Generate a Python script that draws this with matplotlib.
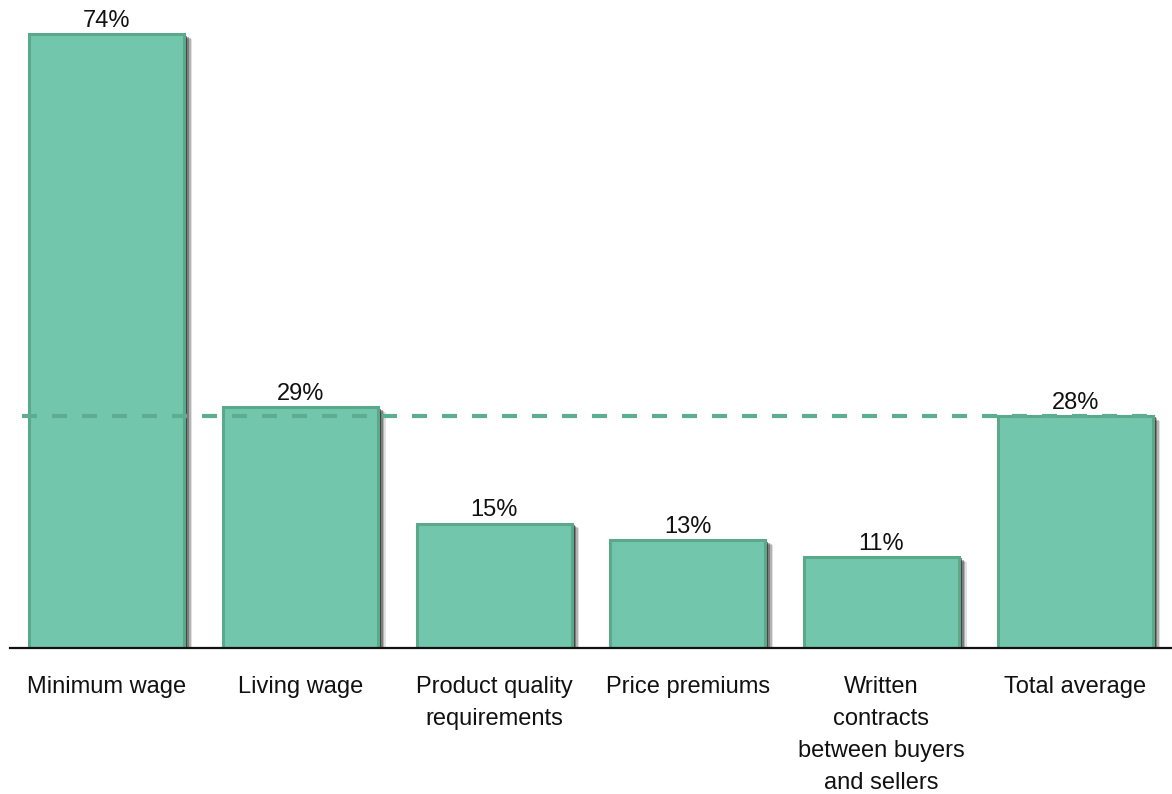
import matplotlib
matplotlib.use("Agg")
import matplotlib.pyplot as plt
import matplotlib.patheffects as pe

categories = [
    "Minimum wage",
    "Living wage",
    "Product quality\nrequirements",
    "Price premiums",
    "Written\ncontracts\nbetween buyers\nand sellers",
    "Total average",
]
values = [74, 29, 15, 13, 11, 28]
average = 28

plt.rcParams["font.family"] = ["Liberation Sans", "DejaVu Sans"]

fig = plt.figure(figsize=(11.72, 7.94), dpi=100)
ax = fig.add_axes([10 / 1172, 146 / 794, 1 - 10 / 1172, 648 / 794])

fill = "#71c6ac"
edge = "#5aa98b"

# soft drop shadow built from a few offset translucent layers
shadow = [
    pe.SimplePatchShadow(offset=(5.5, -3.5), shadow_rgbFace="k", alpha=0.12),
    pe.SimplePatchShadow(offset=(4.5, -2.8), shadow_rgbFace="k", alpha=0.20),
    pe.SimplePatchShadow(offset=(3.5, -2.0), shadow_rgbFace="k", alpha=0.30),
    pe.SimplePatchShadow(offset=(2.2, -1.2), shadow_rgbFace="k", alpha=0.45),
    pe.Normal(),
]

x = list(range(len(values)))
bars = ax.bar(x, values, width=0.8, color=fill, edgecolor=edge, linewidth=2.2, zorder=2)
for b in bars:
    b.set_path_effects(shadow)

for xi, v in zip(x, values):
    ax.annotate(f"{v}%", (xi, v), xytext=(0, 1.5), textcoords="offset points",
                ha="center", va="bottom", fontsize=17, color="#111111", zorder=4)

ax.hlines(average, -0.44, 5.4, colors="#5dae90", linewidth=3,
          linestyles=(0, (3.6, 3.6)), zorder=3)

ax.set_xlim(-0.5, 5.5)
ax.set_ylim(0, 78.1)
for s in ["top", "left", "right"]:
    ax.spines[s].set_visible(False)
ax.spines["bottom"].set_linewidth(1.6)
ax.spines["bottom"].set_color("#111111")
ax.spines["bottom"].set_zorder(5)
ax.set_yticks([])
ax.set_xticks(x)
ax.set_xticklabels(categories, fontsize=17, color="#111111", linespacing=1.6, va="top")
ax.tick_params(axis="x", length=0, pad=20)

fig.savefig("out.png", dpi=100)
